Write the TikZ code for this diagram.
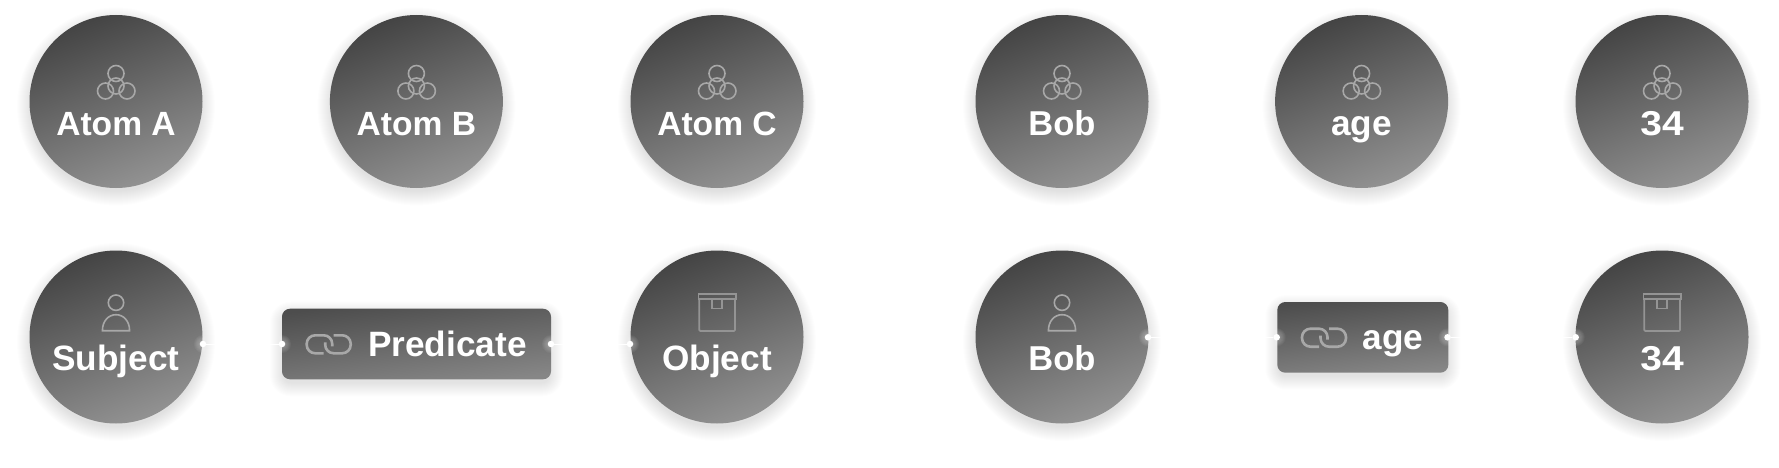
\documentclass[tikz,border=0pt]{standalone}
\usepackage{fontspec}
\usepackage{graphicx}
\setmainfont{Liberation Sans}
\definecolor{gdark}{HTML}{444444}
\definecolor{glight}{HTML}{929292}
\definecolor{iconcol}{HTML}{A8A8A8}
\definecolor{boxcol}{HTML}{949494}
\tikzset{
  disc/.style={circle,minimum size=173pt,inner sep=0pt,top color=gdark,bottom color=glight,shading angle=22},
  bar/.style={rectangle,rounded corners=8pt,inner sep=0pt,top color=gdark!95!white,bottom color=glight!92!black,shading angle=7},
  lbl/.style={anchor=base,text=white,inner sep=0pt,font=\fontsize{34.5}{40}\selectfont\bfseries},
  lblw/.style={lbl,font=\fontsize{35.2}{40}\selectfont\bfseries},
  lbln/.style={lbl,font=\fontsize{33.6}{40}\selectfont\bfseries},
  dot/.style={circle,fill=white,minimum size=6.5pt,inner sep=0pt},
  wire/.style={draw=white,line width=1pt},
  ico/.style={draw=iconcol,line width=1.6pt,fill=none},
  icoc/.style={draw=boxcol,line width=1.7pt,fill=none},
  icob/.style={draw=iconcol,line width=2.6pt,fill=none,rounded corners=8.5pt},
  atomicon/.pic={
    \draw[ico] (0,-28) circle[radius=8];
    \draw[ico] (-10.5,-10.5) circle[radius=8];
    \draw[ico] (11,-10.5) circle[radius=8];
    \draw[ico] (0,-15.5) circle[radius=8];
  },
  personicon/.pic={
    \draw[ico] (0,-34.3) circle[radius=7.7];
    \draw[ico] (-13.6,-6.3) .. controls (-13.6,-16) and (-7.5,-22.3) .. (0,-22.3) .. controls (7.5,-22.3) and (13.6,-16) .. (13.6,-6.3) -- cycle;
  },
  boxicon/.pic={
    \draw[icoc] (-18.5,-43) rectangle (19,-37.7);
    \draw[icoc,rounded corners=1pt] (-17.7,-37.7) -- (-17.7,-6) -- (18,-6) -- (18,-37.7);
    \draw[icoc] (-4.7,-37.7) -- (-4.7,-28.5) -- (5.3,-28.5) -- (5.3,-37.7);
  },
  linkicon/.pic={
    \draw[icob] (-5,9) -- (-22,9) -- (-22,-9) -- (3.5,-9) -- (3.5,2);
    \draw[icob] (5,-9) -- (22,-9) -- (22,9) -- (-3.5,9) -- (-3.5,-2);
  }
}
\newcommand{\discshadow}[2]{%
  \foreach \k in {0,1,...,14}{\fill[black,opacity=0.007] (#1,#2+5) circle[radius=85+\k];}%
}
\newcommand{\barshadow}[4]{%
  \foreach \k in {0,1,...,13}{\fill[black,opacity=0.008,rounded corners={8pt+\k pt}] (#1-\k+1,#2+5-\k+1) rectangle (#3+\k-1,#4+5+\k-1);}%
}
\newcommand{\glow}[2]{%
  \foreach \k in {3,4,...,9}{\fill[white,opacity=0.05] (#1,#2) circle[radius=\k];}%
}
\begin{document}
\begin{tikzpicture}[x=1pt,y=-1pt]
\useasboundingbox (0,0) rectangle (1779,468);
\fill[white] (0,0) rectangle (1779,468);
% shadows
\foreach \cx in {116,416.4,717,1062,1361.6,1662} {\discshadow{\cx}{101.5}}
\foreach \cx in {116,717,1062,1662} {\discshadow{\cx}{337}}
\barshadow{282}{308.7}{551}{379.3}
\barshadow{1277.3}{302}{1448.3}{372.7}
% top row
\node[disc] (a1) at (116,101.5) {};
\node[disc] (a2) at (416.4,101.5) {};
\node[disc] (a3) at (717,101.5) {};
\node[disc] (a4) at (1062,101.5) {};
\node[disc] (a5) at (1361.6,101.5) {};
\node[disc] (a6) at (1662,101.5) {};
\foreach \n in {a1,a2,a3,a4,a5,a6} {\pic at (\n) {atomicon};}
\node[lbln] (la1) at (116,135.5) {Atom A};
\node[lbln] (la2) at (416.4,135.5) {Atom B};
\node[lbln] (la3) at (717,135.5) {Atom C};
\node[lbl] (la4) at (1062,135.5) {Bob};
\node[lblw] (la5) at (1361.6,135.5) {age};
\node[lbl] (la6) at (1662,135.5) {\scalebox{1.13}[1]{34}};
% bottom row
\node[disc] (s1) at (116,337) {};
\node[bar,minimum width=269pt,minimum height=70.6pt] (p1) at (416.5,344) {};
\node[disc] (o1) at (717,337) {};
\node[disc] (s2) at (1062,337) {};
\node[bar,minimum width=171pt,minimum height=70.7pt] (p2) at (1362.8,337.35) {};
\node[disc] (o2) at (1662,337) {};
\pic at (s1) {personicon};
\pic at (s2) {personicon};
\pic at (o1) {boxicon};
\pic at (o2) {boxicon};
\pic at (328.7,344.3) {linkicon};
\pic at (1324,337.7) {linkicon};
\node[lblw] (ls1) at (116,370.5) {Subject};
\node[lblw,anchor=base west] (lp1) at (368,356.7) {Predicate};
\node[lblw] (lo1) at (717,370.5) {Object};
\node[lbl] (ls2) at (1062,370.5) {Bob};
\node[lblw,anchor=base west] (lp2) at (1362.5,349) {age};
\node[lbl] (lo2) at (1662,370.5) {\scalebox{1.13}[1]{34}};
% glows and ports
\glow{203}{344}\glow{282}{344}\glow{551}{344}\glow{630}{344}
\glow{1148}{337.3}\glow{1276.7}{337.3}\glow{1447.5}{337.3}\glow{1575.7}{337.3}
\node[dot] (d1) at (203,344) {};
\node[dot] (d2) at (282,344) {};
\node[dot] (d3) at (551,344) {};
\node[dot] (d4) at (630,344) {};
\node[dot] (d5) at (1148,337.3) {};
\node[dot] (d6) at (1276.7,337.3) {};
\node[dot] (d7) at (1447.5,337.3) {};
\node[dot] (d8) at (1575.7,337.3) {};
\draw[wire] (d1) -- (d2);
\draw[wire] (d3) -- (d4);
\draw[wire] (d5) -- (d6);
\draw[wire] (d7) -- (d8);
\end{tikzpicture}
\end{document}
